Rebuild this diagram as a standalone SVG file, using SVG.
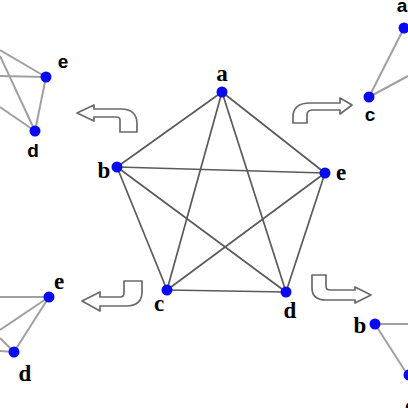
<svg xmlns="http://www.w3.org/2000/svg" width="408" height="408" viewBox="0 0 408 408">
<style>
.e{stroke:#5a5a5a;stroke-width:1.7;fill:none}
.s{stroke:#a0a0a0;stroke-width:2;fill:none}
.n{fill:#0a0af0}
.ar{fill:#fff;stroke:#6a6a6a;stroke-width:1.7;stroke-linejoin:round}
.ls{font-family:"Liberation Serif",serif;font-weight:bold;font-size:23px;fill:#000;text-anchor:middle}
.la{font-family:"Liberation Sans",sans-serif;font-weight:bold;font-size:19px;fill:#000;text-anchor:middle}
</style>
<rect width="408" height="408" fill="#fff"/>
<g id="connectors">
<line class="e" x1="222" y1="92" x2="117" y2="167"/>
<line class="e" x1="222" y1="92" x2="325" y2="173"/>
<line class="e" x1="222" y1="92" x2="167" y2="290"/>
<line class="e" x1="222" y1="92" x2="286" y2="292"/>
<line class="e" x1="117" y1="167" x2="325" y2="173"/>
<line class="e" x1="117" y1="167" x2="167" y2="290"/>
<line class="e" x1="117" y1="167" x2="286" y2="292"/>
<line class="e" x1="325" y1="173" x2="167" y2="290"/>
<line class="e" x1="325" y1="173" x2="286" y2="292"/>
<line class="e" x1="167" y1="290" x2="286" y2="292"/>
<line class="s" x1="0" y1="50" x2="46" y2="77"/>
<line class="s" x1="0" y1="76" x2="46" y2="77"/>
<line class="s" x1="46" y1="77" x2="35" y2="131"/>
<line class="s" x1="0" y1="56" x2="35" y2="131"/>
<line class="s" x1="0" y1="107" x2="35" y2="131"/>
<line class="s" x1="404" y1="28" x2="369" y2="97"/>
<line class="s" x1="369" y1="97" x2="408" y2="76"/>
<line class="s" x1="0" y1="297" x2="49" y2="297"/>
<line class="s" x1="0" y1="330" x2="49" y2="297"/>
<line class="s" x1="49" y1="297" x2="14" y2="352"/>
<line class="s" x1="0" y1="338" x2="14" y2="352"/>
<line class="s" x1="0" y1="351" x2="14" y2="352"/>
<line class="s" x1="375" y1="324" x2="408" y2="324"/>
<line class="s" x1="375" y1="324" x2="407" y2="374"/>
</g>
<g id="arrows">
<path class="ar" d="M77,113 L94,105 L94,109 L121,109 Q137,109 137,124 L137,132 L120,132 L120,120 Q120,117 116,117 L94,117 L94,121 Z"/>
<path class="ar" d="M352,105 L340,98 L340,103 L310,103 Q293,103 293,117 L293,123 L307,123 L307,115 Q307,110 313,110 L340,110 L340,114 Z"/>
<path class="ar" d="M82,301 L100,292 L100,297 L120,297 Q124,297 124,293 L124,281 L142,281 L142,292 Q142,306 126,306 L100,306 L100,311 Z"/>
<path class="ar" d="M371,295 L355,287 L355,290 L330,290 Q326,290 326,286 L326,275 L312,275 L312,288 Q312,300 326,300 L355,300 L355,303 Z"/>
</g>
<g id="node-a"><circle class="n" cx="222" cy="92" r="5.5"/><text class="ls" x="222" y="81">a</text></g>
<g id="node-b"><circle class="n" cx="117" cy="167" r="5.5"/><text class="ls" x="104" y="178">b</text></g>
<g id="node-e"><circle class="n" cx="325" cy="173" r="5.5"/><text class="ls" x="341" y="180">e</text></g>
<g id="node-c"><circle class="n" cx="167" cy="290" r="5.5"/><text class="ls" x="159" y="311">c</text></g>
<g id="node-d"><circle class="n" cx="286" cy="292" r="5.5"/><text class="ls" x="290" y="318">d</text></g>
<g id="tl-e"><circle class="n" cx="46" cy="77" r="5.5"/><text class="la" x="63" y="68">e</text></g>
<g id="tl-d"><circle class="n" cx="35" cy="131" r="5.5"/><text class="la" x="33" y="157">d</text></g>
<g id="tr-a"><circle class="n" cx="404" cy="28" r="5.5"/><text class="la" x="402" y="12">a</text></g>
<g id="tr-c"><circle class="n" cx="369" cy="97" r="5.5"/><text class="la" x="370" y="121">c</text></g>
<g id="bl-e"><circle class="n" cx="49" cy="297" r="5.5"/><text class="ls" x="59" y="289">e</text></g>
<g id="bl-d"><circle class="n" cx="14" cy="352" r="5.5"/><text class="ls" x="25" y="381">d</text></g>
<g id="br-b"><circle class="n" cx="375" cy="324" r="5.5"/><text class="ls" x="360" y="333">b</text></g>
<g id="br-c"><circle class="n" cx="409" cy="375" r="5.5"/><text class="ls" x="410" y="413">c</text></g>
</svg>
